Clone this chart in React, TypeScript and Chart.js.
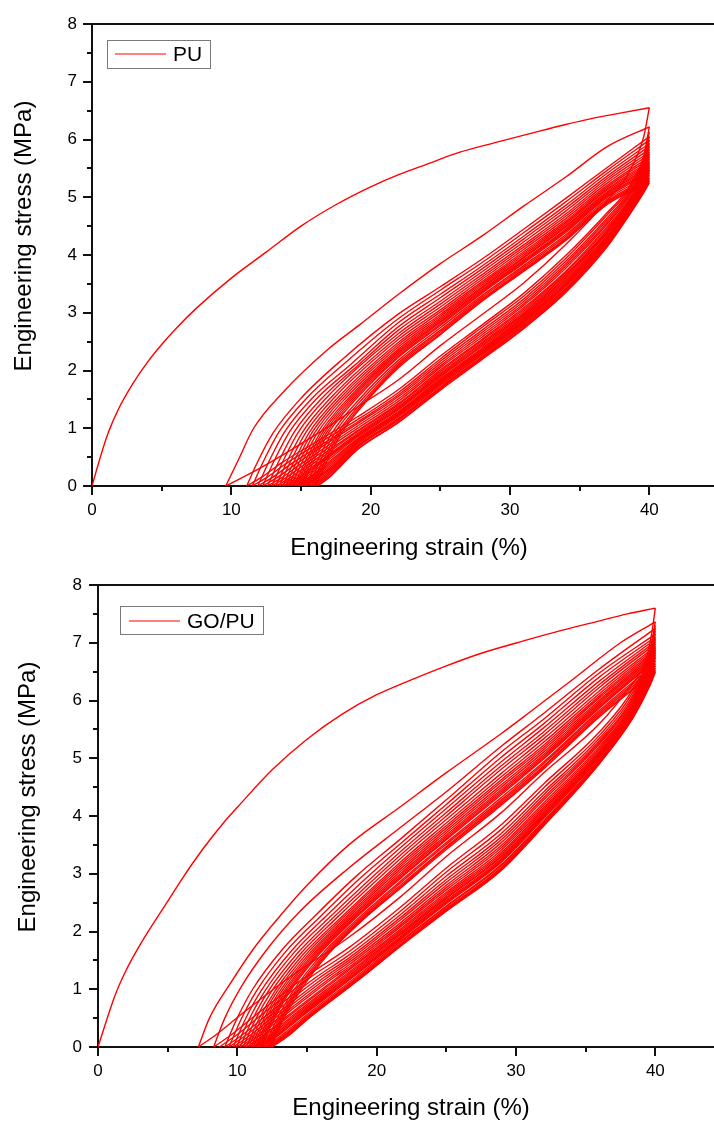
import React, { useEffect, useRef } from "react";
import { Chart, registerables } from "chart.js";
Chart.register(...registerables);

type Pt = [number, number];

const FONT = "'Liberation Sans', Arial, sans-serif";
const RED = "#ff0000";

const xTickStep = 10;
const yTickStep = 1;
const xRange: [number, number] = [0, 45];
const yRange: [number, number] = [0, 8];
const xTitle = "Engineering strain (%)";
const yTitle = "Engineering stress (MPa)";

// ---------------- PU ----------------
const puLabel = "PU";
const puLoading: Pt[] = [[0,0],[0.5,0.42],[1.1,0.88],[2,1.38],[3,1.8],[4,2.15],[5,2.45],[6,2.72],[7.5,3.08],[10,3.6],[12.5,4.05],[15,4.5],[17.5,4.87],[20,5.18],[22.1,5.4],[24,5.57],[26.4,5.78],[29,5.95],[31.7,6.12],[34,6.26],[36,6.37],[38,6.46],[40,6.55]];

const puReloads: Pt[][] = [
  [[9.6,0],[10.5,0.45],[11.6,1.0],[13.7,1.62],[16.9,2.36],[19.2,2.79],[22,3.32],[25,3.85],[28,4.33],[31,4.85],[34,5.35],[37,5.88],[40,6.22]],
  [[11.1,0],[11.95,0.45],[13,0.92],[15,1.52],[18,2.2],[22,2.98],[25,3.45],[28,3.93],[31,4.45],[34,4.98],[37,5.52],[40,6.05]],
  [[11.5,0],[12.35,0.45],[13.4,0.93],[15.4,1.52],[18.2,2.14],[22,2.9],[25,3.39],[28,3.87],[31,4.39],[34,4.92],[37,5.47],[40,5.99]],
  [[11.9,0],[12.75,0.45],[13.8,0.93],[15.8,1.52],[18.5,2.09],[22,2.83],[25,3.32],[28,3.81],[31,4.33],[34,4.86],[37,5.42],[40,5.93]],
  [[12.25,0],[13.1,0.45],[14.15,0.93],[16.15,1.52],[18.8,2.08],[22,2.76],[25,3.26],[28,3.76],[31,4.28],[34,4.81],[37,5.37],[40,5.88]],
  [[12.6,0],[13.45,0.45],[14.5,0.93],[16.5,1.52],[19,2.07],[22,2.7],[25,3.2],[28,3.71],[31,4.23],[34,4.76],[37,5.33],[40,5.83]],
  [[12.9,0],[13.75,0.45],[14.8,0.93],[16.8,1.52],[22,2.64],[25,3.15],[28,3.66],[31,4.18],[34,4.71],[37,5.29],[40,5.78]],
  [[13.2,0],[14.05,0.45],[15.1,0.93],[17.1,1.52],[22,2.59],[25,3.1],[28,3.62],[31,4.14],[34,4.67],[37,5.25],[40,5.74]],
  [[13.45,0],[14.3,0.45],[15.35,0.93],[17.35,1.52],[22,2.54],[25,3.05],[28,3.58],[31,4.1],[34,4.63],[37,5.21],[40,5.7]],
  [[13.7,0],[14.55,0.45],[15.6,0.93],[17.6,1.52],[22,2.49],[25,3.01],[28,3.54],[31,4.06],[34,4.59],[37,5.18],[40,5.66]],
  [[13.9,0],[14.75,0.45],[15.8,0.93],[17.8,1.52],[22,2.45],[25,2.97],[28,3.51],[31,4.03],[34,4.56],[37,5.15],[40,5.62]],
  [[14.1,0],[14.95,0.45],[16,0.93],[18,1.52],[22,2.41],[25,2.94],[28,3.48],[31,4.0],[34,4.53],[37,5.13],[40,5.59]],
  [[14.3,0],[15.15,0.45],[16.2,0.93],[18.2,1.52],[22,2.37],[25,2.91],[28,3.45],[31,3.97],[34,4.5],[37,5.1],[40,5.56]],
  [[14.5,0],[15.35,0.45],[16.4,0.93],[18.4,1.52],[22,2.34],[25,2.88],[28,3.43],[31,3.95],[34,4.48],[37,5.08],[40,5.53]],
  [[14.65,0],[15.5,0.45],[16.55,0.93],[18.55,1.52],[22,2.31],[25,2.85],[28,3.4],[31,3.92],[34,4.45],[37,5.06],[40,5.5]],
  [[14.8,0],[15.65,0.45],[16.7,0.93],[18.7,1.52],[22,2.28],[25,2.83],[28,3.38],[31,3.9],[34,4.43],[37,5.04],[40,5.47]],
  [[14.95,0],[15.8,0.45],[16.85,0.93],[18.85,1.52],[22,2.25],[25,2.8],[28,3.36],[31,3.88],[34,4.41],[37,5.02],[40,5.45]],
  [[15.1,0],[15.95,0.45],[17,0.93],[19,1.52],[22,2.23],[25,2.78],[28,3.34],[31,3.86],[34,4.39],[37,5.0],[40,5.42]],
  [[15.35,0],[16.2,0.45],[17.25,0.93],[19.25,1.52],[22,2.18],[25,2.74],[28,3.3],[31,3.82],[34,4.35],[37,4.97],[40,5.38]],
  [[15.55,0],[16.4,0.45],[17.45,0.93],[19.45,1.52],[22,2.14],[25,2.7],[28,3.27],[31,3.79],[34,4.32],[37,4.94],[40,5.34]],
  [[15.75,0],[16.6,0.45],[17.65,0.93],[19.65,1.52],[22,2.11],[25,2.67],[28,3.24],[31,3.76],[34,4.29],[37,4.92],[40,5.31]],
  [[15.9,0],[16.75,0.45],[17.8,0.93],[19.8,1.52],[22,2.08],[25,2.64],[28,3.22],[31,3.74],[34,4.27],[37,4.9],[40,5.28]],
  [[16.05,0],[16.9,0.45],[18,0.95],[20,1.55],[22,2.05],[25,2.62],[28,3.2],[31,3.72],[34,4.25],[37,4.88],[40,5.25]],
];

const puUnloads: Pt[][] = [
  [[40,6.55],[39.6,6.05],[38.5,5.42],[37,4.95],[34,4.18],[31,3.52],[28,2.97],[25,2.43],[22,1.84],[19,1.36],[16,0.88],[12,0.3],[9.6,0]],
  [[40,6.22],[39.6,5.72],[38.5,5.16],[37,4.74],[34,3.99],[31,3.34],[28,2.79],[25,2.25],[22,1.67],[19,1.19],[16,0.75],[13.6,0.4],[12.1,0.14],[11.1,0]],
  [[40,6.13],[39.6,5.66],[38.5,5.12],[37,4.7],[34,3.94],[31,3.29],[28,2.75],[25,2.2],[22,1.62],[19,1.14],[16.2,0.73],[14,0.4],[12.5,0.14],[11.5,0]],
  [[40,6.05],[39.6,5.6],[38.5,5.08],[37,4.65],[34,3.89],[31,3.24],[28,2.7],[25,2.16],[22,1.58],[19,1.1],[16.5,0.72],[14.4,0.4],[12.9,0.14],[11.9,0]],
  [[40,5.99],[39.6,5.56],[38.5,5.05],[37,4.61],[34,3.85],[31,3.2],[28,2.66],[25,2.12],[22,1.55],[19,1.07],[14.75,0.4],[13.25,0.14],[12.25,0]],
  [[40,5.93],[39.6,5.52],[38.5,5.02],[37,4.57],[34,3.81],[31,3.16],[28,2.62],[25,2.08],[22,1.51],[19,1.03],[15.1,0.4],[13.6,0.14],[12.6,0]],
  [[40,5.88],[39.6,5.5],[38.5,4.99],[37,4.54],[34,3.77],[31,3.13],[28,2.58],[25,2.05],[22,1.47],[19,0.99],[15.4,0.4],[13.9,0.14],[12.9,0]],
  [[40,5.83],[39.6,5.47],[38.5,4.95],[37,4.5],[34,3.72],[31,3.09],[28,2.54],[25,2.01],[22,1.43],[19,0.95],[15.7,0.4],[14.2,0.14],[13.2,0]],
  [[40,5.78],[39.6,5.44],[38.5,4.93],[37,4.47],[34,3.7],[31,3.06],[28,2.52],[25,1.98],[22,1.41],[19,0.93],[15.95,0.4],[14.45,0.14],[13.45,0]],
  [[40,5.74],[39.6,5.41],[38.5,4.91],[37,4.44],[34,3.67],[31,3.03],[28,2.49],[25,1.95],[22,1.38],[19,0.9],[16.2,0.4],[14.7,0.14],[13.7,0]],
  [[40,5.7],[39.6,5.38],[38.5,4.89],[37,4.42],[34,3.65],[31,3.0],[28,2.47],[25,1.93],[22,1.36],[19,0.88],[16.4,0.41],[14.9,0.14],[13.9,0]],
  [[40,5.66],[39.6,5.35],[38.5,4.87],[37,4.4],[34,3.62],[31,2.98],[28,2.44],[25,1.91],[22,1.34],[19,0.86],[16.6,0.42],[15.1,0.14],[14.1,0]],
  [[40,5.62],[39.6,5.33],[38.5,4.85],[37,4.38],[34,3.6],[31,2.96],[28,2.42],[25,1.89],[22,1.32],[19,0.84],[16.8,0.42],[15.3,0.14],[14.3,0]],
  [[40,5.59],[39.6,5.31],[38.5,4.83],[37,4.35],[34,3.57],[31,2.94],[28,2.39],[25,1.86],[22,1.29],[19,0.81],[17,0.42],[15.5,0.14],[14.5,0]],
  [[40,5.56],[39.6,5.29],[38.5,4.82],[37,4.33],[34,3.55],[31,2.92],[28,2.37],[25,1.84],[22,1.28],[19,0.8],[17.15,0.42],[15.65,0.14],[14.65,0]],
  [[40,5.53],[39.6,5.27],[38.5,4.8],[37,4.31],[34,3.52],[31,2.9],[28,2.35],[25,1.82],[22,1.26],[19,0.78],[17.3,0.42],[15.8,0.14],[14.8,0]],
  [[40,5.5],[39.6,5.25],[38.5,4.79],[37,4.3],[34,3.51],[31,2.88],[28,2.34],[25,1.81],[22,1.25],[19,0.77],[17.45,0.42],[15.95,0.14],[14.95,0]],
  [[40,5.47],[39.6,5.23],[38.5,4.78],[37,4.28],[34,3.49],[31,2.86],[28,2.32],[25,1.79],[22,1.23],[19,0.75],[17.6,0.42],[16.1,0.14],[15.1,0]],
  [[40,5.45],[39.6,5.21],[38.5,4.77],[37,4.27],[34,3.48],[31,2.85],[28,2.31],[25,1.78],[22,1.22],[19,0.74],[17.6,0.4],[16.2,0.14],[15.22,0]],
  [[40,5.42],[39.6,5.19],[38.5,4.75],[37,4.25],[34,3.46],[31,2.83],[28,2.29],[25,1.76],[22,1.2],[19,0.72],[17.6,0.38],[16.3,0.15],[15.35,0]],
  [[40,5.38],[39.6,5.17],[38.5,4.73],[37,4.23],[34,3.43],[31,2.81],[28,2.27],[25,1.74],[22,1.17],[19,0.69],[17.7,0.38],[16.5,0.15],[15.55,0]],
  [[40,5.34],[39.6,5.14],[38.5,4.71],[37,4.2],[34,3.41],[31,2.79],[28,2.24],[25,1.71],[22,1.15],[19,0.67],[17.8,0.38],[16.65,0.15],[15.75,0]],
  [[40,5.31],[39.6,5.12],[38.5,4.7],[37,4.19],[34,3.39],[31,2.77],[28,2.23],[25,1.7],[22,1.14],[19,0.66],[17.85,0.38],[16.8,0.15],[15.9,0]],
  [[40,5.28],[39.6,5.1],[38.5,4.68],[37,4.17],[34,3.37],[31,2.75],[28,2.21],[25,1.68],[22,1.11],[19,0.63],[17.9,0.37],[16.95,0.15],[16.05,0]],
  [[40,5.25],[39.6,5.08],[38.5,4.67],[37,4.15],[34,3.35],[31,2.73],[28,2.19],[25,1.66],[22,1.1],[19,0.62],[17.95,0.37],[17.05,0.15],[16.2,0]],
];

// ---------------- GO/PU ----------------
const goLabel = "GO/PU";
const goLoading: Pt[] = [[0,0],[0.6,0.45],[1.2,0.88],[2,1.32],[2.9,1.72],[4,2.15],[5,2.52],[6,2.9],[7.5,3.42],[9,3.88],[10,4.15],[12.5,4.8],[15,5.33],[17.5,5.76],[20,6.1],[22,6.31],[25,6.6],[27.4,6.81],[30.8,7.05],[33.2,7.21],[36,7.38],[38,7.5],[40,7.6]];

const goReloads: Pt[][] = [
  [[7.2,0],[8,0.5],[9.5,1.1],[11.1,1.68],[13,2.25],[15,2.8],[18,3.5],[21.7,4.16],[25,4.75],[28.9,5.42],[31,5.8],[34,6.35],[37.5,7.0],[40,7.36]],
  [[8.3,0],[9.1,0.5],[10.3,1.05],[12,1.65],[14.5,2.35],[18,3.1],[21.7,3.8],[25,4.42],[28.9,5.2],[32,5.78],[36,6.55],[40,7.25]],
  [[9.1,0],[9.93,0.47],[11.1,1.0],[13.2,1.68],[15.7,2.3],[18.5,2.95],[21.7,3.6],[25,4.28],[28.9,5.1],[32,5.68],[36,6.48],[40,7.15]],
  [[9.4,0],[10.23,0.46],[11.4,0.98],[13.5,1.66],[16,2.27],[18.75,2.91],[21.7,3.52],[25,4.2],[28.9,5.01],[32,5.6],[36,6.41],[40,7.1]],
  [[9.7,0],[10.53,0.46],[11.7,0.97],[13.8,1.64],[16.3,2.25],[19,2.87],[21.7,3.45],[25,4.13],[28.9,4.93],[32,5.53],[36,6.34],[40,7.06]],
  [[9.95,0],[10.78,0.45],[11.95,0.96],[14.05,1.63],[16.55,2.23],[21.7,3.38],[25,4.06],[28.9,4.86],[32,5.46],[36,6.28],[40,7.02]],
  [[10.2,0],[11.03,0.45],[12.2,0.96],[14.3,1.62],[16.8,2.22],[21.7,3.32],[25,4.0],[28.9,4.8],[32,5.4],[36,6.23],[40,6.98]],
  [[10.42,0],[11.25,0.45],[12.42,0.95],[14.52,1.61],[17.02,2.21],[21.7,3.26],[25,3.94],[28.9,4.73],[32,5.34],[36,6.17],[40,6.94]],
  [[10.65,0],[11.48,0.45],[12.65,0.95],[14.75,1.61],[17.25,2.2],[21.7,3.2],[25,3.88],[28.9,4.67],[32,5.28],[36,6.12],[40,6.91]],
  [[10.82,0],[11.65,0.45],[12.82,0.95],[14.92,1.6],[17.42,2.2],[21.7,3.16],[25,3.83],[28.9,4.62],[32,5.23],[36,6.08],[40,6.88]],
  [[11,0],[11.83,0.45],[13,0.95],[15.1,1.6],[17.6,2.2],[21.7,3.12],[25,3.79],[28.9,4.58],[32,5.19],[36,6.05],[40,6.85]],
  [[11.15,0],[11.98,0.45],[13.15,0.95],[15.25,1.6],[17.75,2.2],[21.7,3.08],[25,3.75],[28.9,4.53],[32,5.15],[36,6.01],[40,6.82]],
  [[11.3,0],[12.13,0.45],[13.3,0.95],[15.4,1.6],[17.9,2.2],[21.7,3.04],[25,3.71],[28.9,4.49],[32,5.11],[36,5.98],[40,6.79]],
  [[11.42,0],[12.25,0.45],[13.42,0.95],[15.52,1.6],[18.02,2.2],[21.7,3.0],[25,3.67],[28.9,4.45],[32,5.07],[36,5.95],[40,6.76]],
  [[11.55,0],[12.38,0.45],[13.55,0.95],[15.65,1.6],[18.15,2.2],[21.7,2.97],[25,3.64],[28.9,4.42],[32,5.04],[36,5.92],[40,6.74]],
  [[11.65,0],[12.48,0.45],[13.65,0.95],[15.75,1.6],[18.25,2.2],[21.7,2.94],[25,3.61],[28.9,4.39],[32,5.01],[36,5.89],[40,6.71]],
  [[11.75,0],[12.58,0.45],[13.75,0.95],[15.85,1.6],[18.35,2.2],[21.7,2.92],[25,3.59],[28.9,4.36],[32,4.99],[36,5.87],[40,6.69]],
  [[11.95,0],[12.78,0.45],[13.95,0.95],[16.05,1.6],[18.55,2.2],[21.7,2.87],[25,3.54],[28.9,4.31],[32,4.94],[36,5.83],[40,6.64]],
  [[12.1,0],[12.93,0.45],[14.1,0.95],[16.2,1.6],[18.7,2.2],[21.7,2.84],[25,3.51],[28.9,4.27],[32,4.91],[36,5.8],[40,6.6]],
  [[12.22,0],[13.05,0.45],[14.22,0.95],[16.32,1.6],[18.82,2.2],[21.7,2.8],[25,3.47],[28.9,4.24],[32,4.87],[36,5.77],[40,6.56]],
  [[12.32,0],[13.15,0.45],[14.32,0.95],[16.42,1.6],[18.92,2.2],[21.7,2.77],[25,3.45],[28.9,4.21],[32,4.85],[36,5.74],[40,6.52]],
  [[12.42,0],[13.25,0.45],[14.45,0.95],[16.5,1.6],[19,2.2],[21.7,2.75],[25,3.42],[28.9,4.18],[32,4.82],[36,5.72],[40,6.49]],
];

const goUnloads: Pt[][] = [
  [[40,7.6],[39.7,7.1],[39.2,6.6],[38.4,6.31],[36,5.6],[32,4.75],[28.9,4.05],[25,3.3],[21.7,2.6],[18,1.9],[13.7,1.2],[10.2,0.55],[8.4,0.2],[7.2,0]],
  [[40,7.36],[39.6,6.84],[38.4,6.2],[36,5.46],[32,4.56],[28.9,3.84],[25,3.1],[21.7,2.42],[18,1.72],[14.8,1.2],[11.3,0.55],[9.5,0.2],[8.3,0]],
  [[40,7.3],[39.6,6.81],[38.4,6.15],[36,5.4],[32,4.49],[28.9,3.76],[25,3.03],[21.7,2.35],[18,1.65],[15.2,1.2],[11.7,0.55],[9.9,0.2],[8.7,0]],
  [[40,7.25],[39.6,6.78],[38.4,6.1],[36,5.35],[32,4.42],[28.9,3.69],[25,2.96],[21.7,2.29],[18,1.59],[15.6,1.2],[12.1,0.55],[10.3,0.2],[9.1,0]],
  [[40,7.2],[39.6,6.75],[38.4,6.06],[36,5.31],[32,4.37],[28.9,3.63],[25,2.9],[21.7,2.24],[18,1.54],[15.9,1.2],[12.4,0.55],[10.6,0.2],[9.4,0]],
  [[40,7.15],[39.6,6.72],[38.4,6.03],[36,5.28],[32,4.32],[28.9,3.58],[25,2.85],[21.7,2.2],[18,1.5],[16.2,1.2],[12.7,0.55],[10.9,0.2],[9.7,0]],
  [[40,7.1],[39.6,6.7],[38.4,6.0],[36,5.25],[32,4.28],[28.9,3.53],[25,2.8],[21.7,2.15],[18,1.46],[16.45,1.2],[12.95,0.55],[11.15,0.2],[9.95,0]],
  [[40,7.06],[39.6,6.67],[38.4,5.97],[36,5.21],[32,4.23],[28.9,3.48],[25,2.76],[21.7,2.11],[18,1.42],[16.7,1.2],[13.2,0.55],[11.4,0.2],[10.2,0]],
  [[40,7.02],[39.6,6.64],[38.4,5.95],[36,5.18],[32,4.19],[28.9,3.44],[25,2.72],[21.7,2.08],[18,1.38],[16.9,1.2],[13.4,0.55],[11.6,0.2],[10.42,0]],
  [[40,6.98],[39.6,6.61],[38.4,5.92],[36,5.15],[32,4.15],[28.9,3.4],[25,2.68],[21.7,2.04],[18,1.35],[17.15,1.2],[13.65,0.55],[11.85,0.2],[10.65,0]],
  [[40,6.94],[39.6,6.59],[38.4,5.9],[36,5.12],[32,4.12],[28.9,3.36],[25,2.65],[21.7,2.01],[17.3,1.2],[13.8,0.55],[12,0.2],[10.82,0]],
  [[40,6.91],[39.6,6.57],[38.4,5.88],[36,5.1],[32,4.09],[28.9,3.33],[25,2.62],[21.7,1.98],[17.5,1.2],[14,0.55],[12.2,0.2],[11,0]],
  [[40,6.88],[39.6,6.55],[38.4,5.86],[36,5.08],[32,4.06],[28.9,3.3],[25,2.59],[21.7,1.96],[17.65,1.2],[14.15,0.55],[12.35,0.2],[11.15,0]],
  [[40,6.85],[39.6,6.53],[38.4,5.84],[36,5.07],[32,4.04],[28.9,3.28],[25,2.57],[21.7,1.94],[17.8,1.2],[14.3,0.55],[12.5,0.2],[11.3,0]],
  [[40,6.82],[39.6,6.51],[38.4,5.82],[36,5.05],[32,4.02],[28.9,3.25],[25,2.54],[21.7,1.91],[17.92,1.2],[14.42,0.55],[12.62,0.2],[11.42,0]],
  [[40,6.79],[39.6,6.49],[38.4,5.81],[36,5.03],[32,4.0],[28.9,3.23],[25,2.52],[21.7,1.89],[18.05,1.2],[14.55,0.55],[12.75,0.2],[11.55,0]],
  [[40,6.76],[39.6,6.47],[38.4,5.8],[36,5.02],[32,3.98],[28.9,3.21],[25,2.5],[21.7,1.87],[18.15,1.2],[14.65,0.55],[12.85,0.2],[11.65,0]],
  [[40,6.74],[39.6,6.45],[38.4,5.79],[36,5.01],[32,3.96],[28.9,3.19],[25,2.48],[21.7,1.86],[18.25,1.2],[14.75,0.55],[12.95,0.2],[11.75,0]],
  [[40,6.69],[39.6,6.41],[38.4,5.76],[36,4.98],[32,3.92],[28.9,3.15],[25,2.44],[21.7,1.83],[18.45,1.2],[14.95,0.55],[13.15,0.2],[11.95,0]],
  [[40,6.64],[39.6,6.37],[38.4,5.75],[36,4.97],[32,3.9],[28.9,3.13],[25,2.43],[21.7,1.81],[18.6,1.2],[15.1,0.55],[13.3,0.2],[12.1,0]],
  [[40,6.6],[39.6,6.34],[38.4,5.73],[36,4.94],[32,3.88],[28.9,3.1],[25,2.4],[21.7,1.78],[18.7,1.2],[15.2,0.55],[13.4,0.2],[12.22,0]],
  [[40,6.56],[39.6,6.31],[38.4,5.72],[36,4.93],[32,3.86],[28.9,3.08],[25,2.38],[21.7,1.77],[18.8,1.2],[15.3,0.55],[13.5,0.2],[12.32,0]],
  [[40,6.52],[39.6,6.27],[38.4,5.71],[36,4.92],[32,3.85],[28.9,3.07],[25,2.37],[21.7,1.76],[18.9,1.2],[15.4,0.55],[13.6,0.2],[12.42,0]],
  [[40,6.49],[39.6,6.25],[38.4,5.7],[36,4.91],[32,3.83],[28.9,3.05],[25,2.35],[21.7,1.74],[19,1.22],[15.5,0.58],[13.7,0.2],[12.5,0]],
];

interface Deco {
  width: number;
  height: number;
  left: number;
  padRight: number;
  padTop: number;
  xHeight: number;
  label: string;
  box: [number, number, number, number];
  lineX: [number, number];
  textX: number;
  midY: number;
  xTitlePos: [number, number];
  yTitlePos: [number, number];
  labelPad: number;
}

function decoPlugin(d: Deco) {
  return {
    id: "deco",
    afterDraw(chart: any) {
      const ctx = chart.ctx as CanvasRenderingContext2D;
      const a = chart.chartArea;
      const xs = chart.scales.x;
      const ys = chart.scales.y;
      ctx.save();
      ctx.strokeStyle = "#111";
      ctx.lineWidth = 2;
      ctx.beginPath();
      ctx.moveTo(a.left - 1, a.top);
      ctx.lineTo(a.right + 1, a.top);
      ctx.stroke();
      ctx.beginPath();
      for (let v = xRange[0] + xTickStep / 2; v < xRange[1]; v += xTickStep) {
        const px = Math.round(xs.getPixelForValue(v));
        ctx.moveTo(px, a.bottom);
        ctx.lineTo(px, a.bottom + 5);
      }
      for (let v = yRange[0] + yTickStep / 2; v < yRange[1]; v += yTickStep) {
        const py = Math.round(ys.getPixelForValue(v));
        ctx.moveTo(a.left, py);
        ctx.lineTo(a.left - 5, py);
      }
      ctx.stroke();
      const [bx, by, bw, bh] = d.box;
      ctx.lineWidth = 1;
      ctx.strokeStyle = "#7a7a7a";
      ctx.strokeRect(bx + 0.5, by + 0.5, bw, bh);
      ctx.strokeStyle = RED;
      ctx.lineWidth = 1.2;
      ctx.beginPath();
      ctx.moveTo(d.lineX[0], d.midY);
      ctx.lineTo(d.lineX[1], d.midY);
      ctx.stroke();
      ctx.fillStyle = "#000";
      ctx.font = `21px ${FONT}`;
      ctx.textAlign = "left";
      ctx.textBaseline = "middle";
      ctx.fillText(d.label, d.textX, d.midY + 1);
      ctx.font = `24px ${FONT}`;
      ctx.textAlign = "center";
      ctx.textBaseline = "alphabetic";
      ctx.fillText(xTitle, d.xTitlePos[0], d.xTitlePos[1]);
      ctx.save();
      ctx.translate(d.yTitlePos[0], d.yTitlePos[1]);
      ctx.rotate(-Math.PI / 2);
      ctx.fillText(yTitle, 0, 0);
      ctx.restore();
      ctx.restore();
    },
  };
}

function makeConfig(loading: Pt[], reloads: Pt[][], unloads: Pt[][], d: Deco) {
  const curves = [loading, ...reloads, ...unloads];
  return {
    type: "scatter" as const,
    data: {
      datasets: curves.map((c) => ({
        data: c.map((p) => ({ x: p[0], y: p[1] })),
        showLine: true,
        borderColor: RED,
        borderWidth: 1.4,
        pointRadius: 0,
        pointHoverRadius: 0,
        fill: false,
        cubicInterpolationMode: "monotone" as const,
      })),
    },
    options: {
      responsive: false,
      animation: false as const,
      events: [],
      layout: { padding: { left: 0, right: d.padRight, top: d.padTop, bottom: 0 } },
      plugins: { legend: { display: false }, tooltip: { enabled: false }, title: { display: false } },
      scales: {
        x: {
          type: "linear" as const,
          min: xRange[0],
          max: xRange[1],
          afterFit: (s: any) => { s.height = d.xHeight; },
          ticks: { stepSize: xTickStep, includeBounds: false, font: { family: FONT, size: 17 }, color: "#000", padding: 5, maxRotation: 0 },
          grid: { display: true, drawOnChartArea: false, drawTicks: true, tickLength: 9, tickWidth: 2, tickColor: "#111", color: "#111", lineWidth: 2 },
          border: { display: true, color: "#111", width: 2 },
        },
        y: {
          type: "linear" as const,
          min: yRange[0],
          max: yRange[1],
          afterFit: (s: any) => { s.width = d.left; },
          ticks: { stepSize: yTickStep, font: { family: FONT, size: 17 }, color: "#000", padding: d.labelPad },
          grid: { display: true, drawOnChartArea: false, drawTicks: true, tickLength: 9, tickWidth: 2, tickColor: "#111", color: "#111", lineWidth: 2 },
          border: { display: true, color: "#111", width: 2 },
        },
      },
    },
    plugins: [decoPlugin(d)],
  };
}

const puDeco: Deco = {
  width: 740, height: 560, left: 92, padRight: 21, padTop: 24, xHeight: 74,
  label: puLabel, box: [107, 40, 103, 28], lineX: [115, 166], textX: 173, midY: 54,
  xTitlePos: [409, 555], yTitlePos: [31, 236], labelPad: 6,
};

const goDeco: Deco = {
  width: 750, height: 561, left: 98, padRight: 25, padTop: 25, xHeight: 74,
  label: goLabel, box: [120, 46, 143, 28], lineX: [129, 180], textX: 187, midY: 61,
  xTitlePos: [411, 555], yTitlePos: [35, 237], labelPad: 7,
};

function Panel({ loading, reloads, unloads, deco, top }: { loading: Pt[]; reloads: Pt[][]; unloads: Pt[][]; deco: Deco; top: number }) {
  const ref = useRef<HTMLCanvasElement | null>(null);
  useEffect(() => {
    if (!ref.current) return;
    const chart = new Chart(ref.current, makeConfig(loading, reloads, unloads, deco) as any);
    return () => chart.destroy();
  }, []);
  return (
    <canvas
      ref={ref}
      width={deco.width}
      height={deco.height}
      style={{ position: "absolute", left: 0, top, width: deco.width, height: deco.height }}
    />
  );
}

export default function App() {
  return (
    <div style={{ position: "absolute", left: 0, top: 0, width: 714, height: 1121, overflow: "hidden", background: "#fff" }}>
      <Panel loading={puLoading} reloads={puReloads} unloads={puUnloads} deco={puDeco} top={0} />
      <Panel loading={goLoading} reloads={goReloads} unloads={goUnloads} deco={goDeco} top={560} />
    </div>
  );
}
